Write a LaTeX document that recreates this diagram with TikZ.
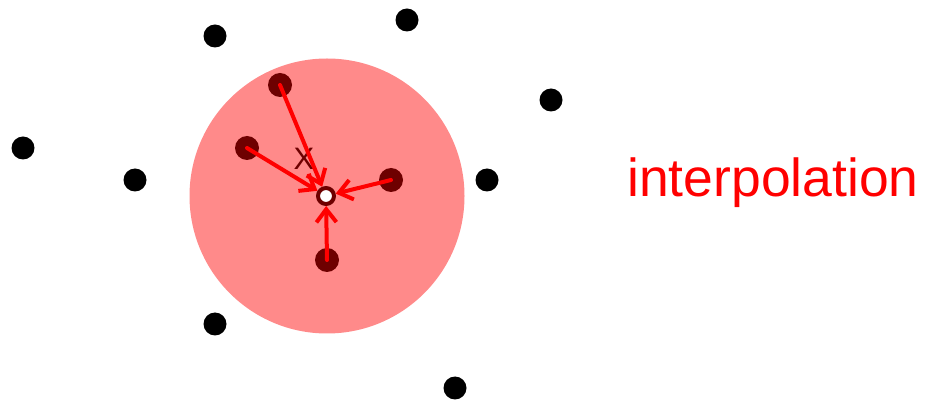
\documentclass[tikz,border=0pt]{standalone}
\usepackage{fontspec}
\setmainfont{Liberation Sans}
\usetikzlibrary{arrows.meta}
\definecolor{ballred}{RGB}{255,138,138}
\definecolor{darkpt}{RGB}{110,0,0}
\begin{document}
\begin{tikzpicture}[x=1pt,y=-1pt,line cap=round,line join=round,
  pt/.style={circle,fill=black,inner sep=0,minimum size=23pt},
  nbr/.style={circle,fill=darkpt,inner sep=0,minimum size=24pt},
  wt/.style={draw=red,line width=4pt,-{Straight Barb[length=13pt,width=20pt]}}]
  \useasboundingbox (0,0) rectangle (927,403);
  \fill[ballred] (327,196) circle (137.5);

  % far samples
  \node[pt] (s1) at (215,36) {};
  \node[pt] (s2) at (407,20) {};
  \node[pt] (s3) at (551,100) {};
  \node[pt] (s4) at (23,148) {};
  \node[pt] (s5) at (135,180) {};
  \node[pt] (s6) at (487,180) {};
  \node[pt] (s7) at (215,324) {};
  \node[pt] (s8) at (455,388) {};

  % neighbours inside the ball
  \node[nbr] (n1) at (280,85) {};
  \node[nbr] (n2) at (247,148) {};
  \node[nbr] (n3) at (391,180) {};
  \node[nbr] (n4) at (327,260) {};
  \node[text=darkpt,font=\fontsize{31}{34}\selectfont] (xlab) at (304,159) {X};

  \node[circle,draw=darkpt,line width=4pt,fill=white,inner sep=0,
    minimum size=16pt,outer sep=2pt] (x) at (326,196) {};
  \foreach \n in {n1,n2,n3,n4}
    \draw[wt] (\n.center) -- (x);

  \node[text=red,font=\fontsize{53.5}{60}\selectfont] (lbl) at (773,183) {interpolation};
\end{tikzpicture}
\end{document}
